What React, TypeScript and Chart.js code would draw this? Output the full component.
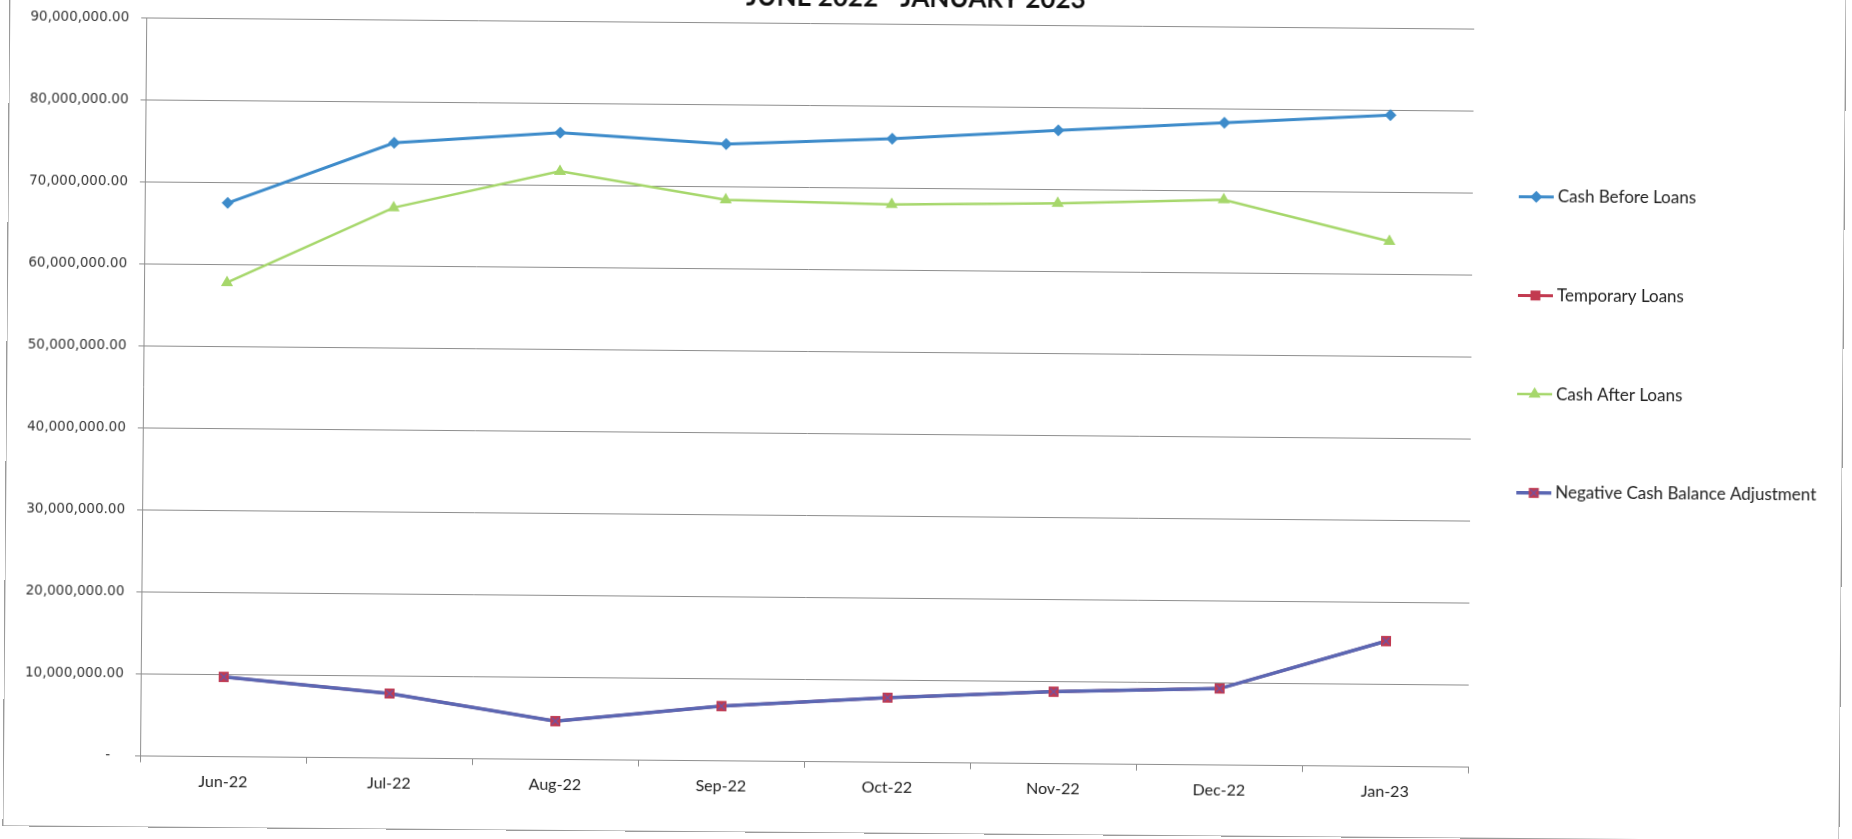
import React, { useEffect, useRef } from 'react';
import { Chart, registerables, layouts } from 'chart.js';

Chart.register(...registerables);

// ---------- data ----------
const months = ['Jun-22', 'Jul-22', 'Aug-22', 'Sep-22', 'Oct-22', 'Nov-22', 'Dec-22', 'Jan-23'];
const cashBeforeLoans = [67500000, 75000000, 76400000, 75200000, 76000000, 77200000, 78300000, 79400000];
const temporaryLoans = [9750000, 7900000, 4700000, 6700000, 7900000, 8800000, 9350000, 15300000];
const cashAfterLoans = [57800000, 67100000, 71700000, 68400000, 68000000, 68300000, 68900000, 64000000];
const negativeCashBalanceAdjustment = [9750000, 7900000, 4700000, 6700000, 7900000, 8800000, 9350000, 15300000];
const seriesNames = ['Cash Before Loans', 'Temporary Loans', 'Cash After Loans', 'Negative Cash Balance Adjustment'];
const titleText = 'JUNE 2022 - JANUARY 2023';
const yMin = 0;
const yMax = 90000000;
const yStep = 10000000;

// ---------- styles ----------
const BLUE = '#3d8bca';
const RED = '#c23a50';
const GREEN = '#a6d76b';
const PURPLE = '#5b67b3';
const GRID = '#8e8e8e';

function makeSquareX(): HTMLCanvasElement {
  const c = document.createElement('canvas');
  c.width = 12;
  c.height = 12;
  const g = c.getContext('2d')!;
  g.fillStyle = RED;
  g.fillRect(1, 1, 10, 10);
  g.strokeStyle = '#6b55a6';
  g.lineWidth = 1.3;
  g.beginPath();
  g.moveTo(2.5, 2.5);
  g.lineTo(9.5, 9.5);
  g.moveTo(9.5, 2.5);
  g.lineTo(2.5, 9.5);
  g.stroke();
  return c;
}

function drawMarker(ctx: CanvasRenderingContext2D, style: any, x: number, y: number, r: number, color: string) {
  ctx.save();
  ctx.fillStyle = color;
  if (typeof style !== 'string') {
    ctx.drawImage(style, x - style.width / 2, y - style.height / 2);
    ctx.restore();
    return;
  }
  ctx.beginPath();
  if (style === 'rectRot') {
    ctx.moveTo(x, y - r);
    ctx.lineTo(x + r, y);
    ctx.lineTo(x, y + r);
    ctx.lineTo(x - r, y);
  } else if (style === 'triangle') {
    const h = Math.sqrt(3) / 2;
    ctx.moveTo(x, y - r);
    ctx.lineTo(x + r * h, y + r / 2);
    ctx.lineTo(x - r * h, y + r / 2);
  } else {
    const s = r * Math.SQRT1_2;
    ctx.rect(x - s, y - s, 2 * s, 2 * s);
  }
  ctx.closePath();
  ctx.fill();
  ctx.restore();
}

const sideLegendPlugin = {
  id: 'sideLegend',
  beforeInit(chart: any) {
    const box: any = {
      position: 'right',
      weight: 0,
      fullSize: false,
      options: { stackWeight: 1 },
      top: 0, left: 0, right: 0, bottom: 0, width: 0, height: 0,
      isHorizontal() { return false; },
      getPadding() { return { top: 0, left: 0, right: 0, bottom: 0 }; },
      update(maxWidth: number, maxHeight: number) {
        this.width = 347;
        this.height = maxHeight;
        return { width: this.width, height: this.height };
      },
      draw() {
        const ctx: CanvasRenderingContext2D = chart.ctx;
        const area = chart.chartArea;
        const x0 = this.left + 46;
        const firstY = area.top + 167.5;
        const step = 98.7;
        chart.data.datasets.forEach((ds: any, i: number) => {
          const y = firstY + i * step;
          ctx.save();
          ctx.strokeStyle = ds.borderColor;
          ctx.lineWidth = ds.borderWidth;
          ctx.beginPath();
          ctx.moveTo(x0, y);
          ctx.lineTo(x0 + 35, y);
          ctx.stroke();
          drawMarker(ctx, ds.pointStyle, x0 + 17.5, y, ds.pointRadius, ds.pointBackgroundColor);
          ctx.fillStyle = '#222';
          ctx.font = '17px Lato';
          ctx.textBaseline = 'middle';
          ctx.textAlign = 'left';
          ctx.fillText(ds.label, x0 + 39, y);
          ctx.restore();
        });
      },
    };
    layouts.addBox(chart, box);
  },
};

function formatY(v: number): string {
  if (v === 0) return '-   ';
  return v.toLocaleString('en-US', { minimumFractionDigits: 2, maximumFractionDigits: 2 });
}

export default function App() {
  const ref = useRef<HTMLCanvasElement | null>(null);

  useEffect(() => {
    if (!ref.current) return;
    const squareX = makeSquareX();
    const chart = new Chart(ref.current, {
      type: 'line',
      data: {
        labels: months,
        datasets: [
          {
            label: seriesNames[0],
            data: cashBeforeLoans,
            borderColor: BLUE,
            backgroundColor: BLUE,
            pointBackgroundColor: BLUE,
            pointBorderColor: BLUE,
            borderWidth: 3,
            pointStyle: 'rectRot',
            pointRadius: 6,
            pointBorderWidth: 0,
            order: 0,
          },
          {
            label: seriesNames[1],
            data: temporaryLoans,
            borderColor: RED,
            backgroundColor: RED,
            pointBackgroundColor: RED,
            pointBorderColor: RED,
            borderWidth: 3,
            pointStyle: 'rect',
            pointRadius: 7,
            pointBorderWidth: 0,
            order: 2,
          },
          {
            label: seriesNames[2],
            data: cashAfterLoans,
            borderColor: GREEN,
            backgroundColor: GREEN,
            pointBackgroundColor: GREEN,
            pointBorderColor: GREEN,
            borderWidth: 2.5,
            pointStyle: 'triangle',
            pointRadius: 7,
            pointBorderWidth: 0,
            order: 1,
          },
          {
            label: seriesNames[3],
            data: negativeCashBalanceAdjustment,
            borderColor: PURPLE,
            backgroundColor: PURPLE,
            pointBackgroundColor: RED,
            pointBorderColor: RED,
            borderWidth: 3.5,
            pointStyle: squareX as any,
            pointRadius: 7,
            pointBorderWidth: 0,
            order: -1,
          },
        ],
      },
      options: {
        animation: false,
        responsive: false,
        devicePixelRatio: 1,
        events: [],
        layout: { padding: { left: 0, right: 24, top: 0, bottom: 27 } },
        elements: { line: { tension: 0 } },
        plugins: {
          legend: { display: false },
          tooltip: { enabled: false },
          title: {
            display: true,
            text: titleText,
            color: '#111',
            font: { family: 'Lato', size: 26, weight: 'bold', lineHeight: 1.2 },
            padding: { top: 2, bottom: 10 },
          },
        },
        scales: {
          x: {
            type: 'category',
            offset: true,
            grid: {
              offset: true,
              drawOnChartArea: false,
              drawTicks: true,
              tickLength: 6,
              color: GRID,
            },
            border: { display: true, color: GRID, width: 1 },
            ticks: {
              color: '#222',
              font: { family: 'Lato', size: 16 },
              padding: 9,
              maxRotation: 0,
              autoSkip: false,
            },
          },
          y: {
            min: yMin,
            max: yMax,
            afterFit: (scale: any) => { scale.width = 136; },
            grid: {
              color: GRID,
              lineWidth: 1,
              drawTicks: true,
              tickLength: 5,
            },
            border: { display: true, color: GRID, width: 1 },
            ticks: {
              stepSize: yStep,
              color: '#333',
              font: { family: '"DejaVu Sans"', size: 13.5 },
              padding: 12,
              callback: (v: any) => formatY(Number(v)),
            },
          },
        },
      },
      plugins: [sideLegendPlugin],
    });
    return () => chart.destroy();
  }, []);

  return (
    <div
      style={{
        position: 'fixed',
        left: 6,
        top: -20,
        width: 1837,
        height: 854,
        border: '1px solid #9a9a9a',
        boxSizing: 'border-box',
        background: '#fff',
        transform: 'rotate(0.48deg)',
      }}
    >
      <canvas ref={ref} width={1835} height={852} style={{ display: 'block', width: 1835, height: 852 }} />
    </div>
  );
}
